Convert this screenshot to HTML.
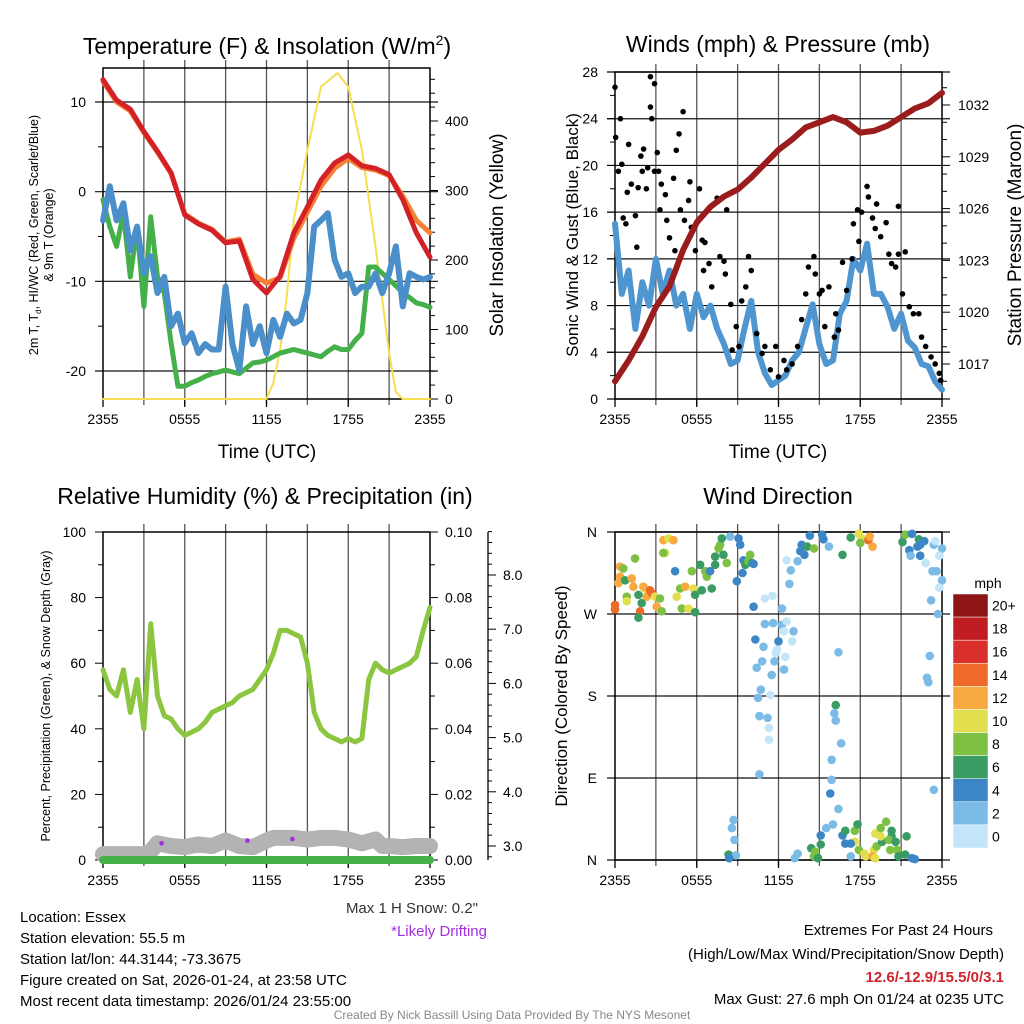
<!DOCTYPE html>
<html><head><meta charset="utf-8"><style>
html,body{margin:0;padding:0;background:#fff;}
svg{display:block;font-family:"Liberation Sans",Arial,sans-serif;}
</style></head><body>
<svg id="chart" xmlns="http://www.w3.org/2000/svg" width="1024" height="1024" viewBox="0 0 1024 1024">
<rect width="1024" height="1024" fill="#fff"/>
<g id="p1"></g>
<g id="p2"></g>
<g id="p3"></g>
<g id="p4"></g>
<g font-size="15" fill="#000">
<text x="20" y="922">Location: Essex</text>
<text x="20" y="943">Station elevation: 55.5 m</text>
<text x="20" y="964">Station lat/lon: 44.3144; -73.3675</text>
<text x="20" y="985">Figure created on Sat, 2026-01-24, at 23:58 UTC</text>
<text x="20" y="1006">Most recent data timestamp: 2026/01/24 23:55:00</text>
<text x="993" y="935" text-anchor="end">Extremes For Past 24 Hours</text>
<text x="1004" y="959" text-anchor="end">(High/Low/Max Wind/Precipitation/Snow Depth)</text>
<text x="1004" y="982" text-anchor="end" fill="#d2232a" font-weight="bold">12.6/-12.9/15.5/0/3.1</text>
<text x="1004" y="1004" text-anchor="end">Max Gust: 27.6 mph On 01/24 at 0235 UTC</text>
<text x="512" y="1019" text-anchor="middle" font-size="12" fill="#888">Created By Nick Bassill Using Data Provided By The NYS Mesonet</text>
</g>
</svg>
<script>
// ---------- DATA ----------
const hours = [0,1,2,3,4,5,6,7,8,9,10,11,12,13,14,15,16,17,18,19,20,21,22,23,24];
const tempRed = [12.5,10.2,9.2,6.7,4.5,2.1,-2.6,-3.6,-4.3,-5.7,-5.5,-9.8,-11.3,-9.4,-4.6,-1.7,1.3,3.2,4.1,2.9,2.6,1.9,-0.9,-4.6,-7.3];
const tempOrange = [12.3,10.0,9.0,6.6,4.4,2.0,-2.5,-3.5,-4.2,-5.6,-5.3,-9.2,-10.2,-9.6,-5.2,-2.3,0.6,2.6,3.7,2.7,2.4,1.8,-0.5,-3.2,-4.6];
const halfHours = [0,0.5,1,1.5,2,2.5,3,3.5,4,4.5,5,5.5,6,6.5,7,7.5,8,8.5,9,9.5,10,10.5,11,11.5,12,12.5,13,13.5,14,14.5,15,15.5,16,16.5,17,17.5,18,18.5,19,19.5,20,20.5,21,21.5,22,22.5,23,23.5,24];
const dewGreen = [-0.9,-3.9,-6.1,-2.4,-9.5,-3.9,-12.8,-2.8,-9.5,-11.3,-16.9,-21.7,-21.7,-21.3,-21.0,-20.6,-20.3,-20.1,-19.9,-20.1,-20.3,-19.7,-19.1,-19.0,-18.8,-18.4,-18.0,-17.8,-17.6,-17.8,-18.0,-18.2,-18.4,-17.8,-17.3,-17.6,-17.6,-16.6,-15.8,-8.4,-8.4,-9.1,-9.8,-10.5,-11.3,-11.8,-12.4,-12.6,-12.9];
const windChill = [-3.2,0.6,-3.2,-1.3,-6.5,-3.9,-9.1,-7.2,-11.3,-9.5,-15.0,-13.6,-16.9,-15.8,-18.0,-17.0,-17.6,-17.6,-10.6,-17.0,-19.9,-12.8,-17.0,-15.0,-18.0,-14.3,-16.2,-13.6,-14.7,-14.3,-11.3,-3.9,-3.2,-2.4,-7.6,-9.5,-9.1,-11.3,-10.6,-10.6,-9.1,-11.3,-9.1,-6.1,-12.8,-9.1,-9.5,-9.8,-9.5];
const solarHours = [0,12,12.5,13,13.5,14,15,16,17.2,18,19,20,21,21.5,22,24];
const solar = [0,0,23,70,150,258,358,449,469,449,358,219,66,10,0,0];
const windSpeed = [15,9,11,6,10,8,12,9,11,8,9,6,9,7,8,6,4.7,3,3.3,6,8.4,4,2.2,1.2,1.6,2,3.3,4,6.1,8.1,4.7,3,3.3,7.3,8.4,12,11,13.3,9,9,7.9,6,7.3,5,4.4,3,2.8,1.5,0.8];
const pressure = [1016.0,1017.2,1018.6,1020.3,1021.5,1023.6,1025.2,1026.1,1026.7,1027.1,1027.8,1028.6,1029.4,1030.0,1030.7,1031.0,1031.3,1031.0,1030.4,1030.5,1030.8,1031.3,1031.8,1032.1,1032.7];
const gustHours = [0,0.05,0.4,0.25,0.5,1,0.6,0.8,0.9,1.2,1.5,1.6,1.7,1.9,2.1,2.3,2,2.4,2.6,2.7,2.6,2.9,2.9,3.1,3.2,3.3,3.4,3.7,3.8,4,4.3,4.4,4.5,4.7,5,4.8,5.1,5.4,5.5,5.6,5.9,6.2,6.4,6.5,6.6,6.9,7.1,7.5,7.7,8,8.1,8.2,8.5,8.6,8.9,9.1,9.3,9.6,9.8,10,10.4,10.8,11,11.4,11.8,12,12.4,12.6,13,13.4,13.7,14,14.2,14.6,14.7,15,15.2,15.4,15.7,16.1,16.2,16.4,16.7,17,17.4,17.5,17.8,17.9,18.1,18.5,18.6,18.9,19.1,19.2,19.5,19.9,20.1,20.3,20.6,20.8,20.8,21.1,21.3,21.6,21.9,22.3,22.5,22.8,23.2,23.5,23.8,23.9];
const gusts = [26.7,22.4,24,19.5,20.1,21.8,15.5,15,17.7,18.4,15.7,13,18.1,20.8,21.4,18,19.5,19.8,25,24,27.6,27,19.5,21.1,19.5,16.2,18.4,17.5,15.3,13.8,18.9,12.7,21.3,22.7,24.6,16.2,15.3,17,18.6,14.7,12.7,18,13.6,11,13.4,11.6,9.6,17.2,12.2,11.8,10.7,16.2,8.1,4.2,6.2,4.5,8.4,9.6,12.2,11,5.6,3.9,4.5,2.5,4.5,1.9,3.3,2.5,3,4.5,6.8,9,11.3,12.2,10.7,9,9.3,6.2,9.6,5.3,7.3,5.9,11.7,9.3,12,15,16.2,13.5,16,18.2,17.3,15.5,14.6,16.7,13.9,15.1,12.4,11.6,11.3,16.5,12.4,9,12.6,7.9,7.3,7.3,5.3,4.5,3.6,3,2.2,1.6];
const rh = [58,52,50,58,45,55,40,72,50,44,43,40,38,39,40,42,45,46,47,48,50,51,52,55,58,63,70,70,69,68,60,45,40,38,37,36,37,36,37,55,60,58,57,58,59,60,62,70,77];
const snowHours = [0,1,2,3,3.5,4,5,6,7,8,9,10,11,12,12.5,13,14,15,16,17,18,19,20,20.5,21,22,23,24];
const snowDepth = [2.85,2.85,2.85,2.85,2.9,3.05,3.0,2.98,3.03,3.0,3.1,3.0,2.98,3.1,3.15,3.15,3.15,3.12,3.15,3.15,3.12,3.05,3.12,3.0,3.0,2.98,3.0,3.0];
const driftHours = [4.3,10.6,13.9];
const driftDepth = [3.05,3.1,3.13];
const dirHours = [0,0,0.37,0.37,0.61,0.25,0.74,1.23,1.35,1.47,0.86,0.86,1.72,1.96,1.84,1.72,2.2,2.08,2.33,2.57,2.7,2.94,3.06,3.3,3.43,3.55,3.92,4.29,3.68,3.55,4.41,4.53,4.78,4.9,5.15,5.39,5.64,5.76,5.88,5.88,6.25,6.37,6.62,6.74,6.98,7.1,7.35,7.35,7.6,7.72,7.84,7.96,8.2,8.45,8.94,9.07,9.19,9.43,9.56,9.8,9.92,10.05,10.17,9.36,
8.7,8.58,8.77,8.33,8.87,8.38,
10.17,11.0,11.56,12.25,12.6,12.9,13.4,12.8,13.6,13.7,13.9,14.3,14.1,14.6,10.3,10.9,11.0,11.6,12.25,12.6,12.4,13.1,13.0,12.0,11.9,11.8,12.5,10.8,11.7,10.4,12.4,11.5,10.7,10.5,11.4,10.6,11.2,11.3,11.3,10.6,
15.2,15.3,15.7,16.7,17.3,17.9,18.1,18.0,18.6,18.7,18.9,16.4,16.2,16.1,16.2,16.6,15.9,15.9,15.8,16.4,16.0,15.5,15.1,15.1,14.4,14.7,14.6,14.9,13.4,13.2,16.7,16.9,17.6,17.8,17.6,17.3,16.9,17.3,17.9,18.3,18.4,19.0,18.9,19.2,19.1,19.6,19.1,19.5,19.9,19.5,20.3,20.3,20.1,20.6,20.7,20.2,20.8,21.3,21.4,21.8,22.0,
21.1,21.3,21.8,22.3,21.6,21.7,22.2,22.4,22.7,22.4,22.8,23.4,23.5,24.0,23.8,23.3,23.6,24.0,23.8,23.2,23.7,23.1,22.9,23.0,23.4];
const dirDeg = [280,275,322,311,320,304,307,309,300,331,289,284,291,282,273,266,298,300,289,296,293,289,278,287,273,351,353,351,337,337,317,289,298,276,300,276,317,298,291,272,324,296,317,311,317,298,324,333,342,346,353,335,326,355,306,353,346,329,324,328,335,326,325,315,
44,35,22,6,5,2,
278,287,290,276,329,318,328,303,339,346,335,356,344,342,242,234,259,260,258,262,251,251,240,240,231,227,223,218,218,211,209,203,187,178,181,158,156,145,132,94,
357,352,344,335,354,358,353,348,351,355,344,228,170,161,153,128,110,88,73,56,39,35,27,17,13,9,4,2,7,2,27,32,32,39,20,18,18,4,11,7,4,11,4,15,2,20,29,26,42,35,32,26,22,20,11,11,4,6,26,2,1,
349,357,358,352,340,334,344,346,350,334,326,346,350,342,334,317,317,307,299,285,270,224,200,195,77];
const dirSpeed = [15,15,13,13,9,13,7,13,13,9,9,11,7,7,15,7,11,13,13,15,15,11,13,9,9,13,11,13,11,9,5,11,9,9,13,11,9,11,7,7,7,7,9,9,5,7,7,7,9,9,7,7,9,3,5,5,5,5,7,9,9,7,5,5,
3,3,3,7,3,5,
5,1,1,3,1,3,3,3,5,5,5,5,7,9,5,3,3,3,3,1,1,3,1,5,1,1,1,3,3,3,3,3,3,3,1,3,3,1,1,3,
5,5,3,7,7,11,11,9,15,13,13,3,7,3,3,3,3,3,5,3,3,3,5,7,7,9,9,7,3,3,5,7,9,7,11,5,5,3,9,11,11,11,13,9,11,7,11,11,9,9,7,7,9,7,9,9,7,7,7,5,5,
7,9,5,7,5,3,5,5,5,5,1,3,1,3,1,3,3,3,1,3,3,3,3,3,3];
const speedBins = ["0","2","4","6","8","10","12","14","16","18","20+"];
const speedColors = ["#c2e6f8","#7cbbe6","#3d86c6","#3a9c62","#7dc043","#e2df4f","#f8a93f","#ee6a2b","#d9302b","#c01d23","#8e1515"];
const timeTicks = [0,6,12,18,24];
const timeTickLabels = ["2355","0555","1155","1755","2355"];

// ---------- HELPERS ----------
const NS = "http://www.w3.org/2000/svg";
function mk(parent, tag, attrs, text){
  const e = document.createElementNS(NS, tag);
  for (const k in attrs) e.setAttribute(k, attrs[k]);
  if (text !== undefined) e.textContent = text;
  parent.appendChild(e);
  return e;
}
function lin(d0,d1,r0,r1){ return v => r0 + (v-d0)/(d1-d0)*(r1-r0); }
function pathD(xs, ys, fx, fy){ return xs.map((x,i)=>(i?"L":"M")+fx(x).toFixed(1)+","+fy(ys[i]).toFixed(1)).join(""); }

function frame(g, L, T, R, B, hLines, fy, name){
  const fx = lin(0,24,L,R);
  for (let h=3; h<24; h+=3){
    const v = mk(g,"line",{x1:fx(h),x2:fx(h),y1:T-8,y2:B+6,stroke:"#555","stroke-width":1.3});
    
    
  }
  hLines.forEach(val=>{
    const l = mk(g,"line",{x1:L-8,x2:R+8,y1:fy(val),y2:fy(val),stroke:"#111","stroke-width":1.2});
    
    
  });
  const r = mk(g,"rect",{x:L,y:T,width:R-L,height:B-T,fill:"none",stroke:"#000","stroke-width":1.5});
  
  
  timeTicks.forEach((t,i)=>{
    mk(g,"line",{x1:fx(t),x2:fx(t),y1:B,y2:B+8,stroke:"#000","stroke-width":1.3});
    const tx = mk(g,"text",{x:fx(t),y:B+25,"text-anchor":"middle","font-size":14},timeTickLabels[i]);
    
    
  });
  return fx;
}
function text(g,x,y,str,size,anchor,name,rot,fill){
  const t = mk(g,"text",{x:x,y:y,"font-size":size,"text-anchor":anchor||"start",fill:fill||"#000"},str);
  if (rot) t.setAttribute("transform","rotate("+rot+" "+x+" "+y+")");
  
  
  return t;
}
function line(g, xs, ys, fx, fy, color, w, name){
  const p = mk(g,"path",{d:pathD(xs,ys,fx,fy),fill:"none",stroke:color,"stroke-width":w,"stroke-linejoin":"round","stroke-linecap":"round"});
  
  
  return p;
}

// ---------- PANEL 1 ----------
(function(){
  const g = document.getElementById("p1");
  const L=103,T=68,R=430,B=399;
  const fy = lin(10,-20,102,371);
  const fs = lin(0,400,399,121);
  const fx = frame(g,L,T,R,B,[10,0,-10,-20],fy,"temperature");
  [10,0,-10,-20].forEach(v=>{ text(g,86,fy(v)+5,String(v),14,"end","temp-tick-label"); });
  [5,-5,-15].forEach(v=>mk(g,"line",{x1:L-5,x2:L,y1:fy(v),y2:fy(v),stroke:"#000"}));
  for(let s=0;s<=460;s+=20){ mk(g,"line",{x1:R,x2:R+(s%100===0?8:5),y1:fs(s),y2:fs(s),stroke:"#000"}); }
  [0,100,200,300,400].forEach(v=>text(g,445,fs(v)+5,String(v),14,"start","solar-tick-label"));
  line(g,solarHours,solar,fx,fs,"#f8dd4f",2,"solar-line");
  line(g,halfHours,dewGreen,fx,fy,"#45b04a",5,"dewpoint-line");
  line(g,halfHours,windChill,fx,fy,"#4a8fc9",6,"windchill-line");
  line(g,hours,tempOrange,fx,fy,"#f58232",5,"temp-9m-line");
  line(g,hours,tempRed,fx,fy,"#d42027",5,"temp-2m-line");
  const t = text(g,267,54,"Temperature (F) & Insolation (W/m",23,"middle","temperature-title");
  const sup = mk(t,"tspan",{"font-size":14,dy:-9},"2"); 
  
  const cl = mk(t,"tspan",{dy:9},")"); 
  
  const yl = text(g,38,235,"",12.5,"middle","temp-y-axis-title",-90);
  yl.innerHTML = '2m T, T<tspan font-size="8" dy="3">d</tspan><tspan dy="-3">, HI/WC (Red, Green, Scarlet/Blue)</tspan>';
  text(g,53,235,"& 9m T (Orange)",12.5,"middle","temp-y-axis-title-2",-90);
  text(g,503,235,"Solar Insolation (Yellow)",19,"middle","solar-y-axis-title",-90);
  text(g,267,458,"Time (UTC)",19,"middle","temp-x-axis-title");
})();

// ---------- PANEL 2 ----------
(function(){
  const g = document.getElementById("p2");
  const L=615,T=72,R=942,B=399;
  const fy = lin(0,28,399,72);
  const fp = lin(1017,1032,364,105);
  const fx = frame(g,L,T,R,B,[0,4,8,12,16,20,24,28],fy,"winds");
  for(let v=0;v<=28;v+=2) mk(g,"line",{x1:L-(v%4===0?8:5),x2:L,y1:fy(v),y2:fy(v),stroke:"#000"});
  [0,4,8,12,16,20,24,28].forEach(v=>text(g,598,fy(v)+5,String(v),14,"end","wind-tick-label"));
  for(let p=1016;p<=1033;p++) mk(g,"line",{x1:R,x2:R+(p%3===0?8:5),y1:fp(p),y2:fp(p),stroke:"#000"});
  [1017,1020,1023,1026,1029,1032].forEach(v=>text(g,958,fp(v)+5,String(v),14,"start","pressure-tick-label"));
  line(g,halfHours,windSpeed,fx,fy,"#4f95d0",6,"wind-speed-line");
  gusts.forEach((v,i)=>{
    const c = mk(g,"circle",{cx:fx(gustHours[i]),cy:fy(v),r:2.8,fill:"#000"});
    
    
  });
  line(g,hours,pressure,fx,fp,"#9b1c1c",6,"pressure-line");
  text(g,778,52,"Winds (mph) & Pressure (mb)",23,"middle","winds-title");
  text(g,578,235,"Sonic Wind & Gust (Blue, Black)",17,"middle","wind-y-axis-title",-90);
  text(g,1021,235,"Station Pressure (Maroon)",19,"middle","pressure-y-axis-title",-90);
  text(g,778,458,"Time (UTC)",19,"middle","winds-x-axis-title");
})();

// ---------- PANEL 3 ----------
(function(){
  const g = document.getElementById("p3");
  const L=103,T=532,R=430,B=860;
  const fy = lin(0,100,860,532);
  const fs = lin(3,8,846,575);
  const fx = frame(g,L,T,R,B,[],fy,"humidity");
  for(let v=0;v<=100;v+=10) mk(g,"line",{x1:L-(v%20===0?8:5),x2:L,y1:fy(v),y2:fy(v),stroke:"#000"});
  [0,20,40,60,80,100].forEach(v=>text(g,86,fy(v)+5,String(v),14,"end","rh-tick-label"));
  for(let v=0;v<=100;v+=10) mk(g,"line",{x1:R,x2:R+(v%20===0?8:5),y1:fy(v),y2:fy(v),stroke:"#000"});
  ["0.00","0.02","0.04","0.06","0.08","0.10"].forEach((s,i)=>text(g,445,fy(i*20)+5,s,14,"start","precip-tick-label"));
  mk(g,"line",{x1:488,x2:488,y1:T,y2:B,stroke:"#000","stroke-width":1.3});
  for(let s=2.8;s<=8.8;s+=0.2) mk(g,"line",{x1:488,x2:488+((Math.round(s*10)%10===0)?8:4),y1:fs(s),y2:fs(s),stroke:"#000"});
  ["3.0","4.0","5.0","6.0","7.0","8.0"].forEach((s,i)=>text(g,503,fs(3+i)+5,s,14,"start","snow-tick-label"));
  line(g,snowHours,snowDepth,fx,fs,"#b3b3b3",16,"snow-depth-line");
  line(g,[0,24],[0,0],fx,fy,"#46b14a",8,"precip-line");
  driftHours.forEach((h,i)=>{
    const c = mk(g,"circle",{cx:fx(h),cy:fs(driftDepth[i]),r:2.3,fill:"#a02ee0"});
    
    
  });
  line(g,halfHours,rh,fx,fy,"#8cc640",5,"rh-line");
  text(g,265,504,"Relative Humidity (%) & Precipitation (in)",23,"middle","humidity-title");
  text(g,50,696,"Percent, Precipitation (Green), & Snow Depth (Gray)",12.5,"middle","rh-y-axis-title",-90);
  text(g,478,913,"Max 1 H Snow: 0.2\"",15,"end","max-snow-text",0,"#333");
  text(g,487,936,"*Likely Drifting",15,"end","drifting-note",0,"#a02ee0");
})();

// ---------- PANEL 4 ----------
(function(){
  const g = document.getElementById("p4");
  const L=615,T=532,R=942,B=860;
  const fy = lin(0,360,860,532);
  const fx = frame(g,L,T,R,B,[0,90,180,270,360],fy,"direction");
  ["N","E","S","W","N"].forEach((s,i)=>text(g,597,fy(i*90)+5,s,14,"end","direction-tick-label"));
  dirDeg.forEach((d,i)=>{
    const s = dirSpeed[i];
    const bin = Math.min(10,Math.max(0,Math.floor(s/2)));
    const c = mk(g,"circle",{cx:fx(dirHours[i]),cy:fy(d),r:4.3,fill:speedColors[bin]});
    
    
  });
  text(g,778,504,"Wind Direction",23,"middle","direction-title");
  text(g,567,696,"Direction (Colored By Speed)",17,"middle","direction-y-axis-title",-90);
  const cb = mk(g,"g",{});
  
  
  const top=594, bh=254/11;
  for(let i=10;i>=0;i--){
    const y = top + (10-i)*bh;
    const r = mk(cb,"rect",{x:953,y:y,width:35,height:bh,fill:speedColors[i],stroke:"#fff","stroke-width":0.5});
    
    
    text(cb,992,y+bh/2+5,speedBins[i],14,"start","colorbar-label");
  }
  text(cb,988,588,"mph",14,"middle","colorbar-title");
})();
</script>
</body></html>
